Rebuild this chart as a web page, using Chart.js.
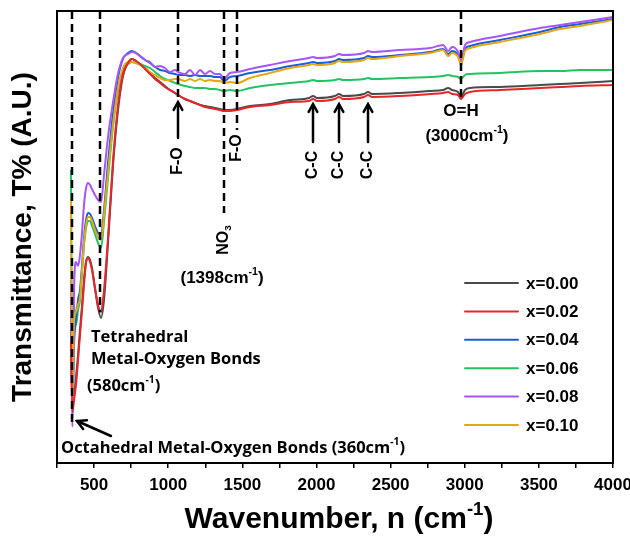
<!DOCTYPE html>
<html><head><meta charset="utf-8">
<script src="https://cdn.jsdelivr.net/npm/chart.js@4.4.1/dist/chart.umd.min.js"></script>
<style>html,body{margin:0;padding:0;background:#fff}</style>
</head><body>
<canvas id="c" width="630" height="540"></canvas>
<script>
// ---- data (wavenumber in cm-1, transmittance in arbitrary units) ----
const wavenumbers = [344,354,365,378,392,405,419,432,446,459,
  473,486,506,527,547,567,594,628,661,695,
  729,756,783,810,844,877,911,945,978,1012,
  1046,1066,1113,1147,1181,1215,1248,1282,1316,1349,
  1376,1417,1464,1552,1687,1822,1950,1977,2004,2125,
  2152,2179,2321,2348,2375,2564,2766,2854,2888,2915,
  2955,2975,3002,3036,3238,3508,3643,3778,4000];
const seriesLabels = ['x=0.00','x=0.02','x=0.04','x=0.06','x=0.08','x=0.10'];
const seriesColors = ['#4a4a4a','#e8262a','#1a5fd6','#22c462','#a855f7','#e2a915'];
const t000 = [133,58,68,85,108,133,158,183,201,206,
  203,195,175,155,145,163,220,298,352,387,
  400,404,402,399,395,390,385,381,377,373,
  370,368,364,362,360,358,357,356,355,354,
  353,353,354,357,359,363,365,367,365,367,
  369,367,369,371,369,370,372,373,375,373,
  371,366,373,375,376,378,379,380,382];
const t002 = [123,51,63,78,103,128,153,178,201,205,
  201,193,175,158,151,173,225,303,357,389,
  400,404,402,399,394,389,384,380,376,373,
  370,368,364,362,360,358,356,355,354,353,
  352,352,353,356,358,361,362,364,362,364,
  366,364,366,368,366,367,369,370,371,369,
  368,364,369,371,373,375,376,377,378];
const t004 = [163,45,118,143,163,173,198,225,243,250,
  249,245,237,230,228,253,300,350,385,404,
  410,412,410,407,403,400,396,393,392,390,
  389,388,388,387,388,387,387,387,386,386,
  382,386,387,390,393,397,400,401,400,402,
  404,403,405,407,406,408,411,414,409,412,
  408,401,414,417,423,431,436,439,444];
const t006 = [293,63,158,138,153,163,191,218,235,242,
  242,237,229,220,215,241,285,337,372,393,
  399,401,400,399,397,395,391,387,384,382,
  380,379,377,376,375,375,375,374,374,373,
  372,373,372,375,378,380,382,383,382,383,
  384,383,384,385,384,385,386,387,388,387,
  386,384,388,389,390,392,392,393,393];
const t008 = [183,36,173,201,197,208,231,258,275,280,
  278,274,268,263,261,288,326,361,389,405,
  409,411,410,407,403,401,396,397,395,391,
  393,391,389,393,388,393,389,392,389,389,
  384,390,391,394,398,402,405,406,405,407,
  409,408,410,412,411,413,415,418,412,416,
  411,401,418,421,427,435,438,441,446];
const t010 = [263,58,143,151,158,165,193,220,238,246,
  246,242,233,226,223,248,290,339,374,395,
  401,401,400,398,395,391,388,385,383,383,
  384,384,382,384,382,384,382,383,382,382,
  380,381,380,385,390,395,398,399,398,400,
  402,401,403,405,404,407,410,413,407,410,
  406,398,412,415,421,429,434,437,443];
const seriesValues = [t000,t002,t004,t006,t008,t010];
const drawOrder = [5,0,3,4,2,1];
const xMin = 250, xMax = 4000, xStep = 250, xLabelStep = 500;

// ---- annotations (data coordinates) ----
const peakLineX   = [350, 540, 1066, 1376, 1464, 2975];
const peakLineEnd = [36, 151, 363, 250, 333, 366];
const arrowX = [1066, 1977, 2152, 2348];
const arrowTip = [361, 359, 359, 359];
const arrowTail = [325, 321, 321, 321];
const rotLabels = [
  {parts:[['F-O',0]], x:1066, y:302},
  {parts:[['F-O',0]], x:1464, y:315},
  {parts:[['C-C',0]], x:1977, y:298},
  {parts:[['C-C',0]], x:2152, y:298},
  {parts:[['C-C',0]], x:2348, y:298},
  {parts:[['NO',0],['3',-1]], x:1376, y:223}
];
const textLabels = [
  {parts:[['(1398cm',0],['-1',1],[')',0]], x:1363, y:185, align:'center', f:'a'},
  {parts:[['O=H',0]], x:2975, y:352, align:'center', f:'a'},
  {parts:[['(3000cm',0],['-1',1],[')',0]], x:3015, y:327, align:'center', f:'a'},
  {parts:[['Tetrahedral',0]], x:479, y:126, align:'left', f:'o'},
  {parts:[['Metal-Oxygen Bonds',0]], x:479, y:104, align:'left', f:'o'},
  {parts:[['(580cm',0],['-1',1],[')',0]], x:452, y:77, align:'left', f:'o'},
  {parts:[['Octahedral Metal-Oxygen Bonds (360cm',0],['-1',1],[')',0]], x:277, y:15, align:'left', f:'o'}
];
const octArrow = {x1:614, y1:27, x2:385, y2:42};

const ARIAL = "'Liberation Sans', Arial, sans-serif";
const OPEN = "'Open Sans', sans-serif";

function drawRich(ctx, parts, cx, cy, size, weight, family, align){
  const f = s => weight + ' ' + s + 'px ' + family;
  const widths = parts.map(([t,m]) => { ctx.font = f(m ? size*0.62 : size); return ctx.measureText(t).width; });
  const total = widths.reduce((p,q)=>p+q,0);
  let xx = align==='left' ? cx : (align==='right' ? cx-total : cx-total/2);
  ctx.textBaseline = 'middle'; ctx.textAlign = 'left';
  parts.forEach(([t,m],i) => {
    ctx.font = f(m ? size*0.62 : size);
    const dy = m===1 ? -size*0.33 : (m===-1 ? size*0.3 : 0);
    ctx.fillText(t, xx, cy+dy);
    xx += widths[i];
  });
}
function arrowHead(ctx, tx, ty, ang, len){
  ctx.beginPath();
  ctx.moveTo(tx - len*Math.cos(ang-0.5), ty - len*Math.sin(ang-0.5));
  ctx.lineTo(tx, ty);
  ctx.lineTo(tx - len*Math.cos(ang+0.5), ty - len*Math.sin(ang+0.5));
  ctx.stroke();
}

const annot = {
  id:'annot',
  afterDatasetsDraw(chart){
    const {ctx, chartArea:a, scales:{x, y}} = chart;
    ctx.save();
    ctx.strokeStyle = '#000'; ctx.fillStyle = '#000';
    // dashed peak lines
    ctx.lineWidth = 2.5; ctx.setLineDash([8,5]);
    peakLineX.forEach((w,i) => {
      const px = Math.round(x.getPixelForValue(w));
      ctx.beginPath(); ctx.moveTo(px, a.top); ctx.lineTo(px, y.getPixelForValue(peakLineEnd[i])); ctx.stroke();
    });
    ctx.setLineDash([]);
    // arrows
    ctx.lineWidth = 2.5; ctx.lineCap = 'round';
    arrowX.forEach((w,i) => {
      const px = Math.round(x.getPixelForValue(w));
      const ty = y.getPixelForValue(arrowTip[i]), by = y.getPixelForValue(arrowTail[i]);
      ctx.beginPath(); ctx.moveTo(px, by); ctx.lineTo(px, ty+1); ctx.stroke();
      arrowHead(ctx, px, ty, -Math.PI/2, 9);
    });
    {
      const x1 = x.getPixelForValue(octArrow.x1), y1 = y.getPixelForValue(octArrow.y1);
      const x2 = x.getPixelForValue(octArrow.x2), y2 = y.getPixelForValue(octArrow.y2);
      ctx.beginPath(); ctx.moveTo(x1,y1); ctx.lineTo(x2,y2); ctx.stroke();
      arrowHead(ctx, x2, y2, Math.atan2(y2-y1, x2-x1), 10);
    }
    // rotated labels
    rotLabels.forEach(l => {
      ctx.save();
      ctx.translate(x.getPixelForValue(l.x), y.getPixelForValue(l.y));
      ctx.rotate(-Math.PI/2);
      drawRich(ctx, l.parts, 0, 0, 16, 'bold', ARIAL, 'center');
      ctx.restore();
    });
    // horizontal labels
    textLabels.forEach(l => {
      const isA = l.f === 'a';
      drawRich(ctx, l.parts, x.getPixelForValue(l.x), y.getPixelForValue(l.y),
        isA ? 17 : 16.5, 'bold', isA ? ARIAL : OPEN, l.align);
    });
    // frame
    ctx.lineWidth = 2;
    ctx.strokeRect(a.left, a.top, a.right-a.left, a.bottom-a.top);
    // legend
    chart.data.datasets.forEach((ds,i) => {
      const yy = a.top + 272 + i*28.4;
      ctx.strokeStyle = ds.borderColor; ctx.lineWidth = 2;
      ctx.beginPath(); ctx.moveTo(a.right-148, yy); ctx.lineTo(a.right-95, yy); ctx.stroke();
      ctx.fillStyle = '#000';
      ctx.font = 'bold 17px ' + ARIAL; ctx.textAlign = 'left'; ctx.textBaseline = 'middle';
      ctx.fillText(ds.label, a.right-87, yy+1);
    });
    // x axis title with superscript
    ctx.fillStyle = '#000';
    drawRich(ctx, [['Wavenumber, n (cm',0],['-1',1],[')',0]], (a.left+a.right)/2 + 4, 520, 30, 'bold', ARIAL, 'center');
    ctx.restore();
  }
};

new Chart(document.getElementById('c'), {
  type: 'line',
  data: {
    datasets: seriesLabels.map((lab,i) => ({
      label: lab,
      data: wavenumbers.map((w,j) => ({x:w, y:seriesValues[i][j]})),
      borderColor: seriesColors[i],
      backgroundColor: seriesColors[i],
      borderWidth: 2,
      pointRadius: 0,
      fill: false,
      cubicInterpolationMode: 'monotone',
      order: drawOrder[i]
    }))
  },
  options: {
    responsive: false,
    animation: false,
    layout: { padding: { top: 11, right: 17, left: 0, bottom: 0 } },
    plugins: { legend: { display: false }, tooltip: { enabled: false } },
    scales: {
      x: {
        type: 'linear', min: xMin, max: xMax,
        afterFit(s){ s.height = 77; s.paddingLeft = 0; s.paddingRight = 0; },
        ticks: {
          stepSize: xStep, autoSkip: false, maxRotation: 0, padding: 7,
          color: '#000', font: { family: ARIAL, weight: 'bold', size: 17 },
          callback: v => (v % xLabelStep === 0 ? String(v) : '')
        },
        grid: { drawOnChartArea: false, drawTicks: true, tickLength: 5, color: '#000', lineWidth: 1.5 },
        border: { display: true, color: '#000', width: 2 }
      },
      y: {
        min: 0, max: 452,
        afterFit(s){ s.width = 57; s.paddingTop = 0; s.paddingBottom = 0; },
        ticks: { display: false },
        grid: { display: false },
        border: { display: true, color: '#000', width: 2 },
        title: { display: true, text: 'Transmittance, T% (A.U.)', color: '#000',
          font: { family: ARIAL, weight: 'bold', size: 28 }, padding: { top: 6, bottom: 0 } }
      }
    }
  },
  plugins: [annot]
});
</script>
</body></html>
